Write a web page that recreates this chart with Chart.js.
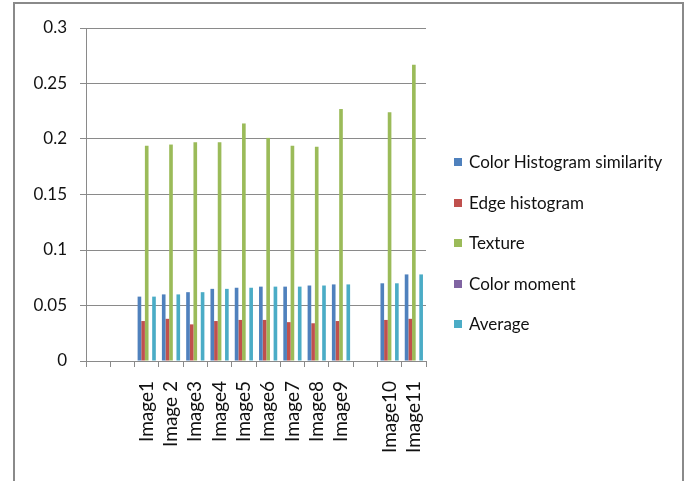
<!DOCTYPE html>
<html>
<head>
<meta charset="utf-8">
<script src="https://cdn.jsdelivr.net/npm/chart.js@4/dist/chart.umd.min.js"></script>
<style>
  html, body { margin: 0; padding: 0; background: #fff; }
  body { width: 688px; height: 481px; position: relative; overflow: hidden; }
  #c { position: absolute; left: 0; top: 0; }
  #frame {
    position: absolute; left: 13px; top: 2px; width: 667px; height: 600px;
    border: 2px solid #8a8a8a; border-bottom: none; pointer-events: none;
  }
  #legend {
    position: absolute; left: 454px; top: 150px;
    font-family: Lato, "Open Sans", sans-serif; font-size: 17px; color: #111;
  }
  .item { height: 40.5px; display: flex; align-items: flex-start; white-space: nowrap; }
  .item .box { width: 8px; height: 8px; margin-top: 8px; margin-right: 7px; flex: none; }
  .item .txt { line-height: 24px; }
</style>
</head>
<body>
<canvas id="c" width="688" height="481"></canvas>
<div id="frame"></div>
<div id="legend"></div>
<script>
// Category slots along the x axis (blank slots are left empty)
const categories = ['', '', 'Image1', 'Image 2', 'Image3', 'Image4', 'Image5', 'Image6',
                    'Image7', 'Image8', 'Image9', '', 'Image10', 'Image11'];

const colorHistogram = [null, null, 0.058, 0.060, 0.062, 0.065, 0.066, 0.067, 0.067, 0.068, 0.069, null, 0.070, 0.078];
const edgeHistogram  = [null, null, 0.036, 0.038, 0.033, 0.036, 0.037, 0.037, 0.035, 0.034, 0.036, null, 0.037, 0.038];
const texture        = [null, null, 0.194, 0.195, 0.197, 0.197, 0.214, 0.201, 0.194, 0.193, 0.227, null, 0.224, 0.267];
const colorMoment    = [null, null, 0, 0, 0, 0, 0, 0, 0, 0, 0, null, 0, 0];
const average        = [null, null, 0.058, 0.060, 0.062, 0.065, 0.066, 0.067, 0.067, 0.068, 0.069, null, 0.070, 0.078];

const yTicks = [0, 0.05, 0.1, 0.15, 0.2, 0.25, 0.3];

const seriesNames  = ['Color Histogram similarity', 'Edge histogram', 'Texture', 'Color moment', 'Average'];
const seriesColors = ['#4F81BD', '#C0504D', '#9BBB59', '#8064A2', '#4BACC6'];
const seriesValues = [colorHistogram, edgeHistogram, texture, colorMoment, average];

const gridColor = '#8a8a8a';
const font = 'Lato, "Open Sans", sans-serif';

const chart = new Chart(document.getElementById('c'), {
  type: 'bar',
  data: {
    labels: categories,
    datasets: seriesValues.map((vals, i) => ({
      label: seriesNames[i],
      data: vals,
      backgroundColor: seriesColors[i],
      borderWidth: 0,
      categoryPercentage: 0.75,
      barPercentage: 1.0
    }))
  },
  options: {
    responsive: false,
    animation: false,
    devicePixelRatio: 1,
    layout: { padding: { top: 28, right: 262, bottom: 0, left: 0 } },
    plugins: { legend: { display: false }, tooltip: { enabled: false } },
    scales: {
      x: {
        grid: { offset: true, drawOnChartArea: false, drawTicks: true, tickLength: 6, color: gridColor, lineWidth: 1 },
        border: { color: gridColor, width: 1 },
        ticks: {
          autoSkip: false, minRotation: 90, maxRotation: 90, padding: 14,
          color: '#111', font: { family: font, size: 19 }
        },
        afterFit: s => { s.height = 120; }
      },
      y: {
        min: 0, max: 0.3,
        afterBuildTicks: s => { s.ticks = yTicks.map(v => ({ value: v })); },
        grid: { color: gridColor, lineWidth: 1, tickLength: 6 },
        border: { color: gridColor, width: 1 },
        ticks: {
          padding: 13, color: '#111', font: { family: font, size: 17 },
          callback: v => String(Number(v.toFixed(2)))
        },
        afterFit: s => { s.width = 86; }
      }
    }
  }
});

// Legend built from the chart's datasets
const legend = document.getElementById('legend');
chart.data.datasets.forEach(ds => {
  const item = document.createElement('div');
  item.className = 'item';
  const box = document.createElement('span');
  box.className = 'box';
  box.style.background = ds.backgroundColor;
  const txt = document.createElement('span');
  txt.className = 'txt';
  txt.textContent = ds.label;
  item.appendChild(box);
  item.appendChild(txt);
  legend.appendChild(item);
});
</script>
</body>
</html>
